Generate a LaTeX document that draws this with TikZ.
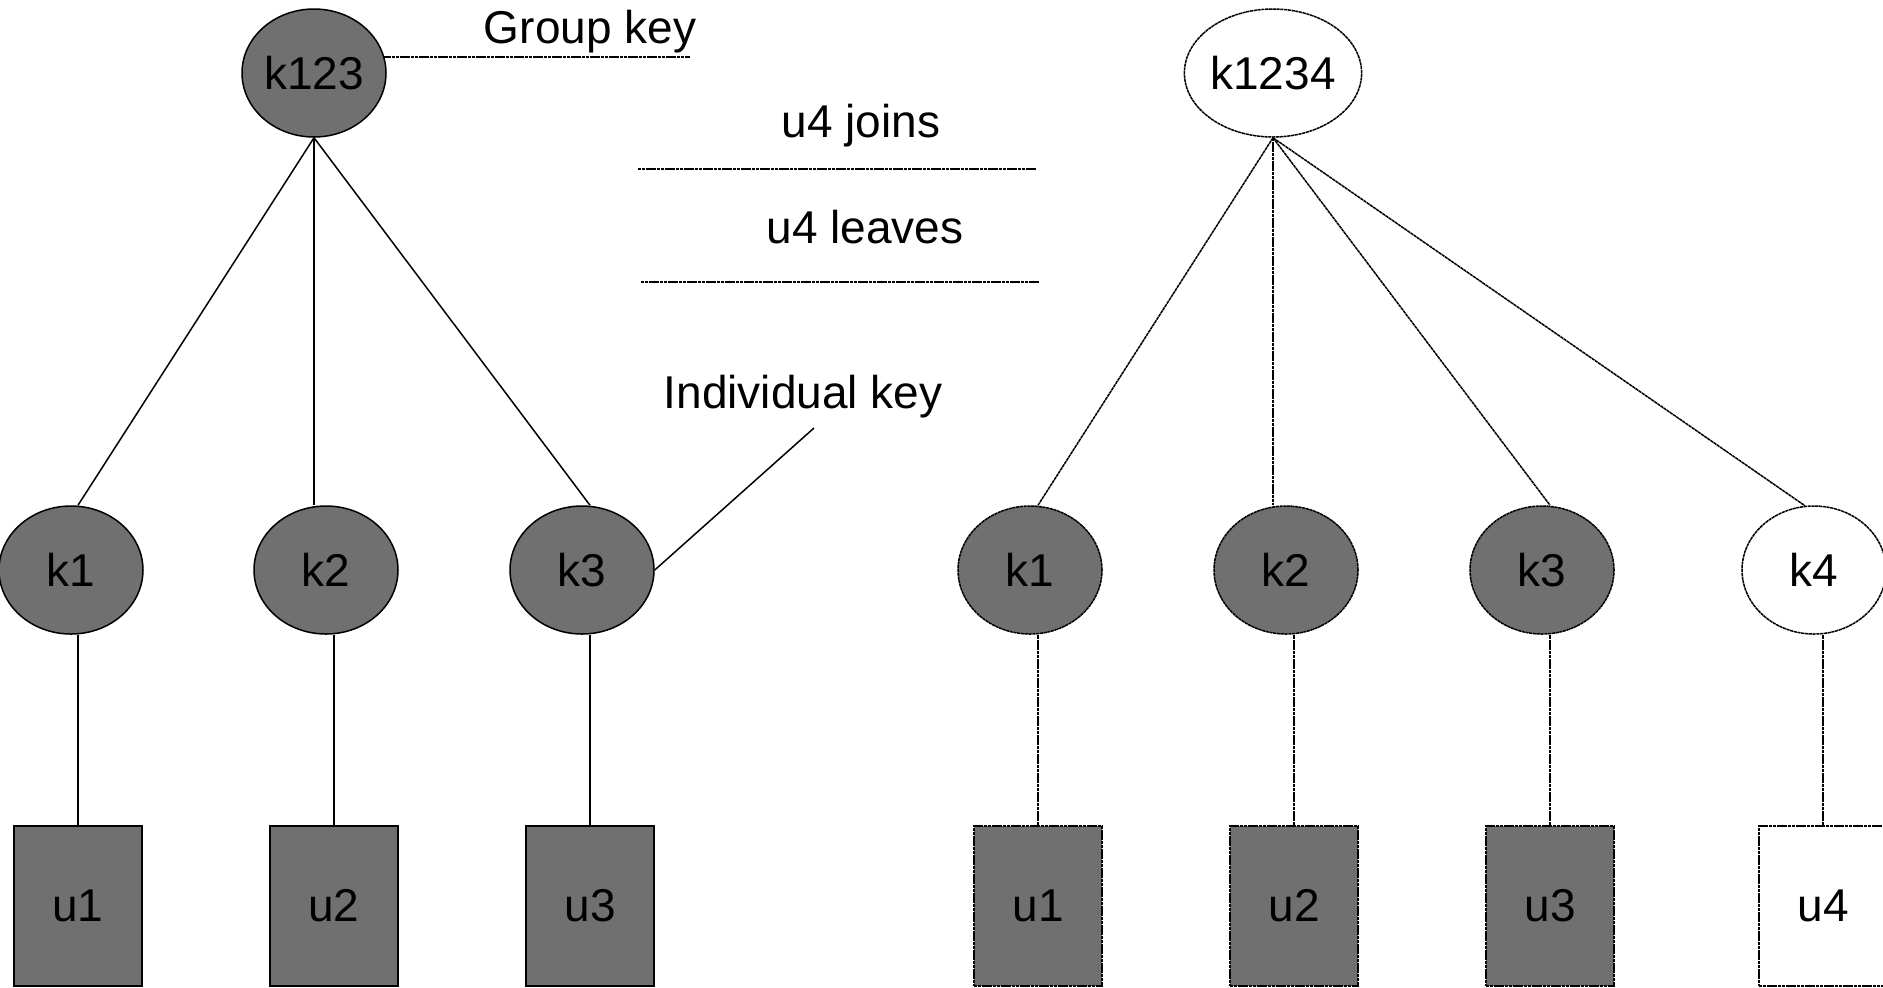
\documentclass[tikz,border=0pt]{standalone}
\usepackage{fontspec}
\setmainfont{Liberation Sans}
\usetikzlibrary{shapes.geometric}
\definecolor{keygray}{RGB}{112,112,112}
\begin{document}
\begin{tikzpicture}[x=0.5pt,y=-0.5pt,
  every node/.style={font=\fontsize{23}{27}\selectfont},
  keynode/.style={ellipse, draw, minimum width=72pt, minimum height=64pt, inner sep=0pt},
  usernode/.style={rectangle, draw, minimum width=64pt, minimum height=80pt, inner sep=0pt},
  solidline/.style={line width=0.75pt},
  dotline/.style={line width=0.75pt, dash pattern=on 1.6pt off 0.3pt},
  filled/.style={fill=keygray},
  blank/.style={fill=white},
  txt/.style={anchor=base, inner sep=0pt}]
\useasboundingbox (0,0) rectangle (1883,987);

% left tree
\node[keynode,filled,solidline] (k123) at (314,73) {k123};
\node[keynode,filled,solidline] (a1) at (71,570) {k1};
\node[keynode,filled,solidline] (a2) at (326,570) {k2};
\node[keynode,filled,solidline] (a3) at (582,570) {k3};
\node[usernode,filled,solidline] (au1) at (78,906) {u1};
\node[usernode,filled,solidline] (au2) at (334,906) {u2};
\node[usernode,filled,solidline] (au3) at (590,906) {u3};

\draw[solidline] (k123.south) -- (au1.north |- a1.north);
\draw[solidline] (k123.south) -- (k123.south |- a2.north);
\draw[solidline] (k123.south) -- (au3.north |- a3.north);
\draw[solidline] (au1.north) -- (au1.north |- a1.south);
\draw[solidline] (au2.north) -- (au2.north |- a2.south);
\draw[solidline] (au3.north) -- (au3.north |- a3.south);

% labels
\node[txt] (gk) at (590,43) {Group key};
\coordinate (gkend) at (690,57);
\draw[dotline] (k123.13) -- (k123.13 -| gkend);

\node[txt] (join) at (861,137) {u4 joins};
\coordinate (j1) at (638,169);
\coordinate (j2) at (1036,169);
\draw[dotline] (j1) -- (j2);

\node[txt] (leave) at (865,243) {u4 leaves};
\coordinate (l1) at (641,282);
\coordinate (l2) at (1039,282);
\draw[dotline] (l1) -- (l2);

\node[txt] (ik) at (803,408) {Individual key};
\coordinate (ikend) at (814,428);
\draw[solidline] (a3.east) -- (ikend);

% right tree
\node[keynode,blank,dotline] (k1234) at (1273,73) {k1234};
\node[keynode,filled,dotline] (b1) at (1030,570) {k1};
\node[keynode,filled,dotline] (b2) at (1286,570) {k2};
\node[keynode,filled,dotline] (b3) at (1542,570) {k3};
\node[keynode,blank,dotline] (b4) at (1814,570) {k4};
\node[usernode,filled,dotline] (bu1) at (1038,906) {u1};
\node[usernode,filled,dotline] (bu2) at (1294,906) {u2};
\node[usernode,filled,dotline] (bu3) at (1550,906) {u3};
\node[usernode,blank,dotline] (bu4) at (1823,906) {u4};

\draw[dotline] (k1234.south) -- (bu1.north |- b1.north);
\draw[dotline] (k1234.south) -- (k1234.south |- b2.north);
\draw[dotline] (k1234.south) -- (bu3.north |- b3.north);
\draw[dotline] (k1234.south) -- (b4.98);
\draw[dotline] (bu1.north) -- (bu1.north |- b1.south);
\draw[dotline] (bu2.north) -- (bu2.north |- b2.south);
\draw[dotline] (bu3.north) -- (bu3.north |- b3.south);
\draw[dotline] (bu4.north) -- (bu4.north |- b4.south);
\end{tikzpicture}
\end{document}
